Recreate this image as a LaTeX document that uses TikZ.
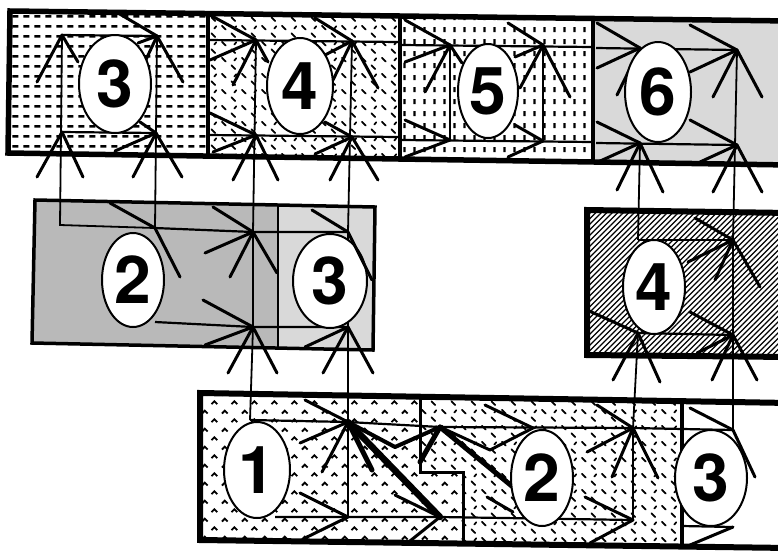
\documentclass[tikz,border=0pt]{standalone}
\usepackage{fontspec}
\newfontfamily\numfont{TeX Gyre Heros}
\usetikzlibrary{patterns,shapes.geometric}

\pgfdeclarepatternformonly{hdash}{\pgfqpoint{0pt}{0pt}}{\pgfqpoint{11pt}{10pt}}{\pgfqpoint{11pt}{10pt}}{%
  \pgfsetlinewidth{2.8pt}\pgfpathmoveto{\pgfqpoint{1.5pt}{5pt}}\pgfpathlineto{\pgfqpoint{8pt}{5pt}}\pgfusepath{stroke}}
\pgfdeclarepatternformonly{diagdash}{\pgfqpoint{0pt}{0pt}}{\pgfqpoint{20pt}{16pt}}{\pgfqpoint{20pt}{16pt}}{%
  \pgfsetlinewidth{1.8pt}\pgfsetroundcap
  \pgfpathmoveto{\pgfqpoint{2pt}{14pt}}\pgfpathlineto{\pgfqpoint{6pt}{10pt}}
  \pgfpathmoveto{\pgfqpoint{12pt}{6pt}}\pgfpathlineto{\pgfqpoint{16pt}{2pt}}
  \pgfpathmoveto{\pgfqpoint{15pt}{11pt}}\pgfpathlineto{\pgfqpoint{17pt}{13.5pt}}
  \pgfusepath{stroke}}
\pgfdeclarepatternformonly{vdash}{\pgfqpoint{0pt}{0pt}}{\pgfqpoint{10pt}{12pt}}{\pgfqpoint{10pt}{12pt}}{%
  \pgfsetlinewidth{2.4pt}\pgfpathmoveto{\pgfqpoint{5pt}{3pt}}\pgfpathlineto{\pgfqpoint{5pt}{8.5pt}}\pgfusepath{stroke}}
\pgfdeclarepatternformonly{caret}{\pgfqpoint{0pt}{0pt}}{\pgfqpoint{20pt}{18pt}}{\pgfqpoint{20pt}{18pt}}{%
  \pgfsetlinewidth{1.9pt}
  \pgfpathmoveto{\pgfqpoint{2pt}{12pt}}\pgfpathlineto{\pgfqpoint{5pt}{15pt}}\pgfpathlineto{\pgfqpoint{8pt}{12pt}}
  \pgfpathmoveto{\pgfqpoint{12pt}{3pt}}\pgfpathlineto{\pgfqpoint{15pt}{6pt}}\pgfpathlineto{\pgfqpoint{18pt}{3pt}}
  \pgfusepath{stroke}}
\pgfdeclarepatternformonly{hatch}{\pgfqpoint{-1pt}{-1pt}}{\pgfqpoint{6.5pt}{6.5pt}}{\pgfqpoint{5.5pt}{5.5pt}}{%
  \pgfsetlinewidth{1.3pt}\pgfpathmoveto{\pgfqpoint{0pt}{0pt}}\pgfpathlineto{\pgfqpoint{5.5pt}{5.5pt}}\pgfusepath{stroke}}

\tikzset{
  outer/.style={line width=5.5pt, line join=miter},
  divider/.style={line width=3.8pt},
  ray/.style={line width=3pt, line cap=round},
  bigray/.style={line width=5pt, line cap=round},
  conn/.style={line width=1.8pt},
  innerline/.style={line width=2.2pt},
  num/.style={ellipse, draw, fill=white, line width=2pt, inner sep=0pt,
    font=\numfont\bfseries\fontsize{66}{66}\selectfont},
}

\begin{document}
\begin{tikzpicture}[x=1pt,y=-1pt]
\clip (0,0) rectangle (778,550);
\fill[white] (0,0) rectangle (778,550);

% ---------- fills ----------
\fill[pattern=hdash] (10,11) -- (208,13) -- (208,155) -- (8,153) -- cycle;
\fill[pattern=diagdash] (208,13) -- (400,15) -- (400,157) -- (208,155) -- cycle;
\fill[pattern=vdash] (400,15) -- (593,18) -- (593,160) -- (400,157) -- cycle;
\fill[gray!30] (593,18) -- (790,21) -- (790,165) -- (593,160) -- cycle;
\fill[gray!55] (35,200) -- (278,205) -- (278,348) -- (32,343) -- cycle;
\fill[gray!30] (278,205) -- (375,207) -- (373,350) -- (278,348) -- cycle;
\fill[pattern=hatch] (587,210) -- (790,213) -- (790,357) -- (587,355) -- cycle;
\fill[pattern=caret] (200,393) -- (420,397) -- (420,472) -- (463,472) -- (463,542) -- (200,540) -- cycle;
\fill[pattern=diagdash] (420,397) -- (682,402) -- (682,545) -- (463,542) -- (463,472) -- (420,472) -- cycle;

% ---------- fan points ----------
\coordinate (A1) at (62,35);  \coordinate (A2) at (157,36);
\coordinate (A3) at (62,132); \coordinate (A4) at (156,133);
\coordinate (B1) at (256,40); \coordinate (B2) at (352,41);
\coordinate (B3) at (256,135);\coordinate (B4) at (352,137);
\coordinate (C1) at (450,45); \coordinate (C2) at (543,45);
\coordinate (C3) at (450,140);\coordinate (C4) at (543,141);
\coordinate (D1) at (640,48); \coordinate (D2) at (737,50);
\coordinate (D3) at (640,143);\coordinate (D4) at (737,145);
\coordinate (Ma) at (60,225); \coordinate (Mb) at (155,228);
\coordinate (Mc) at (253,232);\coordinate (Md) at (348,232);
\coordinate (Me) at (253,327);\coordinate (Mf) at (348,327);
\coordinate (Na) at (638,240);\coordinate (Nb) at (733,240);
\coordinate (Nc) at (638,333);\coordinate (Nd) at (733,335);
\coordinate (Ba) at (250,420);\coordinate (Bb) at (348,422);
\coordinate (Bc) at (440,427);\coordinate (Bd) at (633,428);
\coordinate (Be) at (733,430);\coordinate (Bf) at (348,517);
\coordinate (Bg) at (440,517);\coordinate (Bh) at (633,520);
\coordinate (Bi) at (733,527);

% ---------- connectors ----------
\draw[conn] (A1) -- (Ma) -- (Mb) -- (A2);
\draw[conn] (B1) -- (Mc) -- (Me) -- (Ba);
\draw[conn] (B2) -- (Md) -- (Mf) -- (Bb) -- (Bf);
\draw[conn] (C1) -- (C3);  \draw[conn] (C2) -- (C4);
\draw[conn] (D3) -- (Na);  \draw[conn] (Nc) -- (Bd) -- (Bh);
\draw[conn] (D2) -- (Nb) -- (Nd) -- (Be);

% ---------- inner horizontal lines ----------
\draw[innerline] (A1) -- (A2);  \draw[innerline] (A3) -- (A4);
\draw[innerline] (209,40) -- (398,42);  \draw[innerline] (209,135) -- (398,137);
\draw[innerline] (402,45) -- (592,47);  \draw[innerline] (402,140) -- (592,142);
\draw[innerline] (596,48) -- (D2);      \draw[innerline] (596,143) -- (D4);
\draw[innerline] (Mb) -- (Mc) -- (Md);  \draw[innerline] (155,322) -- (Me) -- (Mf);
\draw[innerline] (Na) -- (Nb);          \draw[innerline] (Nc) -- (Nd);
\draw[innerline] (Ba) -- (Bb) -- (Bc) -- (Bd) -- (Be);
\draw[innerline] (275,517) -- (Bf) -- (Bg) -- (Bh);
\draw[innerline] (682,526) -- (Bi);

% ---------- top cell 3 ----------
\draw[ray] (118,13) -- (A2);
\draw[ray] (A1) -- (37,82);  \draw[ray] (A1) -- (78,62);
\draw[ray] (A2) -- (138,43); \draw[ray] (A2) -- (143,66); \draw[ray] (A2) -- (183,82);
\draw[ray] (A4) -- (115,151); \draw[ray] (140,122) -- (A4);
\draw[ray] (A3) -- (37,177); \draw[ray] (A3) -- (83,177);
\draw[ray] (A4) -- (133,177); \draw[ray] (A4) -- (182,177);
% ---------- top cell 4 ----------
\draw[ray] (210,15) -- (B1); \draw[ray] (315,18) -- (B2);
\draw[ray] (B1) -- (210,60); \draw[ray] (B1) -- (233,85); \draw[ray] (B1) -- (268,62);
\draw[ray] (B2) -- (325,55); \draw[ray] (B2) -- (333,80); \draw[ray] (B2) -- (378,88);
\draw[ray] (210,113) -- (B3); \draw[ray] (B3) -- (213,152);
\draw[ray] (325,122) -- (B4); \draw[ray] (B4) -- (315,154);
\draw[ray] (B3) -- (233,180); \draw[ray] (B3) -- (278,180);
\draw[ray] (B4) -- (330,180); \draw[ray] (B4) -- (378,180);
% ---------- top cell 5 ----------
\draw[ray] (405,20) -- (C1); \draw[ray] (508,23) -- (C2);
\draw[ray] (C1) -- (405,62); \draw[ray] (C1) -- (425,92); \draw[ray] (C1) -- (462,63);
\draw[ray] (C2) -- (515,57); \draw[ray] (C2) -- (520,88); \draw[ray] (C2) -- (570,97);
\draw[ray] (405,120) -- (C3); \draw[ray] (C3) -- (405,157);
\draw[ray] (515,125) -- (C4); \draw[ray] (C4) -- (508,157);
% ---------- top cell 6 ----------
\draw[ray] (597,23) -- (D1); \draw[ray] (690,25) -- (D2);
\draw[ray] (D1) -- (597,68); \draw[ray] (D1) -- (617,95);
\draw[ray] (D2) -- (690,72); \draw[ray] (D2) -- (713,97); \draw[ray] (D2) -- (762,97);
\draw[ray] (597,122) -- (D3); \draw[ray] (D3) -- (598,162);
\draw[ray] (690,120) -- (D4); \draw[ray] (D4) -- (700,162);
\draw[ray] (D3) -- (617,190); \draw[ray] (D3) -- (663,192);
\draw[ray] (D4) -- (713,192); \draw[ray] (D4) -- (762,192);
% ---------- middle left box ----------
\draw[ray] (110,203) -- (Mb); \draw[ray] (Mb) -- (180,277);
\draw[ray] (213,207) -- (Mc);
\draw[ray] (Mc) -- (205,253); \draw[ray] (Mc) -- (230,277); \draw[ray] (Mc) -- (277,273);
\draw[ray] (312,210) -- (Md);
\draw[ray] (203,300) -- (Me); \draw[ray] (Me) -- (205,345);
\draw[ray] (Mf) -- (305,347);
\draw[ray] (Me) -- (228,373); \draw[ray] (Me) -- (277,373);
\draw[ray] (Mf) -- (323,373); \draw[ray] (Mf) -- (373,373);
% ---------- middle right box ----------
\draw[ray] (695,218) -- (Nb);
\draw[ray] (Nb) -- (688,262); \draw[ray] (Nb) -- (715,280); \draw[ray] (Nb) -- (760,287);
\draw[ray] (587,310) -- (Nc); \draw[ray] (690,312) -- (Nd); \draw[ray] (Nd) -- (697,353);
\draw[ray] (Nc) -- (613,380); \draw[ray] (Nc) -- (660,382);
\draw[ray] (Nd) -- (712,380); \draw[ray] (Nd) -- (757,380);
% ---------- bottom box ----------
\draw[ray] (305,400) -- (Bb);
\draw[ray] (Bb) -- (300,443); \draw[ray] (Bb) -- (322,472);
\draw[bigray] (Bb) -- (372,470);
\draw[line width=6.5pt, line cap=round] (Bb) -- (Bg);
\draw[line width=4pt, line cap=round, line join=round] (Bb) -- (395,447) -- (Bc);
\draw[bigray] (Bc) -- (420,462); \draw[bigray] (Bc) -- (513,487);
\draw[ray, line join=round] (Bc) -- (490,450) -- (533,428);
\draw[ray] (485,405) -- (533,428);
\draw[ray] (487,497) -- (513,512);
\draw[ray] (300,493) -- (Bf); \draw[ray] (Bf) -- (305,538);
\draw[ray] (395,495) -- (Bg); \draw[ray] (Bg) -- (410,541);
\draw[ray] (597,405) -- (Bd);
\draw[ray] (Bd) -- (587,452); \draw[ray] (Bd) -- (612,477); \draw[ray] (Bd) -- (658,478);
\draw[ray] (585,497) -- (Bh); \draw[ray] (Bh) -- (590,543);
\draw[ray] (690,408) -- (Be); \draw[ray] (Bi) -- (690,545);

% ---------- outlines ----------
\draw[outer] (10,11) -- (790,21) -- (790,165) -- (8,153) -- cycle;
\draw[divider] (208,13) -- (208,155);
\draw[divider] (400,15) -- (400,157);
\draw[divider] (593,18) -- (593,160);
\draw[line width=3.5pt, line join=miter] (35,200) -- (375,207) -- (373,350) -- (32,343) -- cycle;
\draw[line width=2.4pt] (278,205) -- (278,348);
\draw[outer, line width=6pt] (587,210) -- (790,213) -- (790,357) -- (587,355) -- cycle;
\draw[outer, line width=6pt] (200,393) -- (790,403) -- (790,548) -- (200,540) -- cycle;
\draw[line width=3pt] (420,397) -- (420,472) -- (463,472) -- (463,542);
\draw[line width=3.5pt] (682,402) -- (682,546);

% ---------- numbered ellipses ----------
\node[num, minimum width=72pt, minimum height=98pt] (e3a) at (115,84) {3};
\node[num, minimum width=66pt, minimum height=96pt] (e4a) at (300,86) {4};
\node[num, minimum width=60pt, minimum height=94pt] (e5a) at (488,91) {5};
\node[num, minimum width=66pt, minimum height=100pt] (e6a) at (658,92) {6};
\node[num, minimum width=62pt, minimum height=94pt] (e2m) at (133,280) {2};
\node[num, minimum width=74pt, minimum height=94pt] (e3m) at (330,281) {3};
\node[num, minimum width=62pt, minimum height=94pt] (e4m) at (654,287) {4};
\node[num, minimum width=66pt, minimum height=96pt] (e1b) at (257,470) {1};
\node[num, minimum width=62pt, minimum height=96pt] (e2b) at (542,478) {2};
\node[num, minimum width=72pt, minimum height=96pt] (e3b) at (711,478) {3};

% rays lying over ellipse edges
\draw[ray] (Md) -- (372,280);
\draw[ray] (Be) -- (755,477);
\end{tikzpicture}
\end{document}
